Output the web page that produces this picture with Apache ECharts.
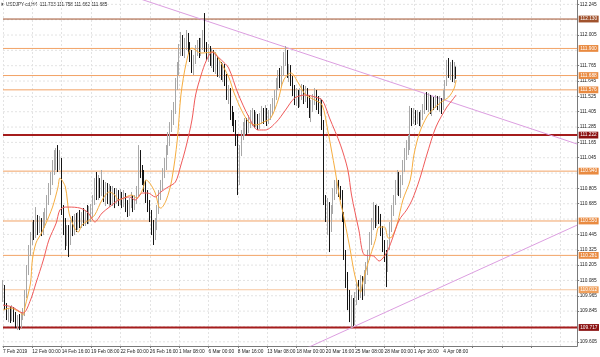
<!DOCTYPE html>
<html><head><meta charset="utf-8">
<script src="https://cdn.jsdelivr.net/npm/echarts@6/dist/echarts.min.js"></script>
<style>html,body{margin:0;padding:0;background:#fff}#c{width:600px;height:357px}</style>
</head><body><div id="c"></div>
<script>
const headerText = 'USDJPY-cd,H4  111.733 111.758 111.662 111.685';
const timeLabels = ['7 Feb 2019','12 Feb 00:00','14 Feb 16:00','19 Feb 08:00','22 Feb 00:00','26 Feb 16:00','1 Mar 08:00','6 Mar 00:00','8 Mar 16:00','13 Mar 08:00','18 Mar 00:00','20 Mar 16:00','25 Mar 08:00','28 Mar 00:00','1 Apr 16:00','4 Apr 08:00'];
const yLabels = [109.605,109.845,109.965,110.085,110.205,110.325,110.445,110.685,110.805,111.045,111.165,111.285,111.405,111.525,111.645,111.765,112.005,112.245];
const yGrid = [109.605,109.725,109.845,109.965,110.085,110.205,110.325,110.445,110.565,110.685,110.805,110.925,111.045,111.165,111.285,111.405,111.525,111.645,111.765,111.885,112.005,112.125,112.245];

const opens = [109.947,110.026,109.877,109.814,109.838,109.791,109.853,109.806,109.759,109.791,109.744,109.806,109.838,109.971,110.166,110.323,110.401,110.495,110.440,110.558,110.479,110.526,110.464,110.542,110.597,110.714,110.792,110.886,110.949,111.011,111.043,110.988,111.027,110.620,110.518,110.401,110.464,110.385,110.518,110.464,110.542,110.495,110.558,110.518,110.573,110.542,110.589,110.558,110.620,110.636,110.714,110.808,110.753,110.831,110.777,110.839,110.753,110.808,110.745,110.792,110.730,110.777,110.722,110.761,110.714,110.753,110.698,110.745,110.675,110.620,110.683,110.730,110.667,110.714,110.777,111.027,110.949,110.886,110.831,110.745,110.675,110.597,110.495,110.440,110.518,110.636,110.753,110.831,110.933,110.988,111.105,111.183,111.277,111.356,111.418,111.614,111.731,111.888,111.950,111.872,111.927,111.982,111.903,111.849,111.731,111.810,111.888,111.927,111.872,111.935,111.966,111.903,111.849,111.888,111.810,111.849,111.770,111.810,111.731,111.763,111.716,111.747,111.669,111.528,111.575,111.403,111.356,111.293,111.199,110.871,111.105,111.223,111.262,111.301,111.277,111.324,111.356,111.379,111.324,111.356,111.301,111.340,111.403,111.356,111.403,111.340,111.371,111.418,111.457,111.536,111.614,111.669,111.637,111.716,111.810,111.849,111.692,111.731,111.653,111.575,111.497,111.543,111.481,111.528,111.575,111.512,111.559,111.497,111.403,111.450,111.497,111.536,111.481,111.418,111.450,111.301,110.714,110.597,110.675,110.518,110.636,110.753,110.808,110.831,110.777,110.753,110.597,110.284,110.088,109.932,109.838,109.892,109.791,109.932,110.010,109.971,110.049,110.010,110.104,110.166,110.284,110.401,110.518,110.597,110.542,110.620,110.573,110.479,110.362,110.284,110.182,110.362,110.495,110.620,110.714,110.792,110.886,110.792,110.871,110.988,111.066,111.121,111.183,111.403,111.340,111.387,111.340,111.379,111.324,111.371,111.418,111.497,111.450,111.512,111.434,111.481,111.457,111.504,111.465,111.497,111.450,111.536,111.637,111.747,111.716,111.770,111.669,111.733];
const closes = [110.026,109.877,109.814,109.838,109.791,109.853,109.806,109.759,109.791,109.744,109.806,109.838,109.971,110.166,110.323,110.401,110.495,110.440,110.558,110.479,110.526,110.464,110.542,110.597,110.714,110.792,110.886,110.949,111.011,111.043,110.988,111.027,110.620,110.518,110.401,110.464,110.385,110.518,110.464,110.542,110.495,110.558,110.518,110.573,110.542,110.589,110.558,110.620,110.636,110.714,110.808,110.753,110.831,110.777,110.839,110.753,110.808,110.745,110.792,110.730,110.777,110.722,110.761,110.714,110.753,110.698,110.745,110.675,110.620,110.683,110.730,110.667,110.714,110.777,111.027,110.949,110.886,110.831,110.745,110.675,110.597,110.495,110.440,110.518,110.636,110.753,110.831,110.933,110.988,111.105,111.183,111.277,111.356,111.418,111.614,111.731,111.888,111.950,111.872,111.927,111.982,111.903,111.849,111.731,111.810,111.888,111.927,111.872,111.935,111.966,111.903,111.849,111.888,111.810,111.849,111.770,111.810,111.731,111.763,111.716,111.747,111.669,111.528,111.575,111.403,111.356,111.293,111.199,110.871,111.105,111.223,111.262,111.301,111.277,111.324,111.356,111.379,111.324,111.356,111.301,111.340,111.403,111.356,111.403,111.340,111.371,111.418,111.457,111.536,111.614,111.669,111.637,111.716,111.810,111.849,111.692,111.731,111.653,111.575,111.497,111.543,111.481,111.528,111.575,111.512,111.559,111.497,111.403,111.450,111.497,111.536,111.481,111.418,111.450,111.301,110.714,110.597,110.675,110.518,110.636,110.753,110.808,110.831,110.777,110.753,110.597,110.284,110.088,109.932,109.838,109.892,109.791,109.932,110.010,109.971,110.049,110.010,110.104,110.166,110.284,110.401,110.518,110.597,110.542,110.620,110.573,110.479,110.362,110.284,110.182,110.362,110.495,110.620,110.714,110.792,110.886,110.792,110.871,110.988,111.066,111.121,111.183,111.403,111.340,111.387,111.340,111.379,111.324,111.371,111.418,111.497,111.450,111.512,111.434,111.481,111.457,111.504,111.465,111.497,111.450,111.536,111.637,111.747,111.716,111.770,111.669,111.731,111.685];
const highs = [110.088,110.049,109.908,109.869,109.885,109.892,109.877,109.838,109.814,109.822,109.838,109.869,110.010,110.205,110.362,110.464,110.542,110.558,110.659,110.597,110.589,110.573,110.620,110.651,110.753,110.847,110.933,111.027,111.105,111.121,111.144,111.105,111.043,110.675,110.573,110.518,110.518,110.558,110.589,110.605,110.612,110.620,110.636,110.620,110.651,110.636,110.675,110.667,110.683,110.753,110.886,110.933,110.910,110.886,110.949,110.871,110.855,110.847,110.839,110.824,110.824,110.808,110.808,110.792,110.800,110.777,110.792,110.769,110.714,110.730,110.777,110.753,110.753,110.824,111.144,111.105,110.988,110.949,110.871,110.792,110.714,110.636,110.558,110.573,110.675,110.792,110.871,110.964,111.043,111.144,111.246,111.324,111.418,111.481,111.669,111.794,111.935,112.029,112.005,111.982,112.044,112.021,111.950,111.888,111.849,111.927,111.966,111.982,111.982,112.044,112.177,111.950,111.935,111.919,111.903,111.888,111.872,111.841,111.810,111.794,111.786,111.778,111.700,111.614,111.590,111.450,111.403,111.340,111.230,111.144,111.262,111.324,111.356,111.356,111.379,111.418,111.434,111.418,111.403,111.387,111.395,111.450,111.434,111.457,111.434,111.418,111.465,111.512,111.575,111.669,111.731,111.747,111.763,111.872,111.919,111.888,111.778,111.770,111.684,111.614,111.590,111.575,111.590,111.622,111.614,111.606,111.590,111.536,111.497,111.543,111.590,111.575,111.528,111.512,111.497,111.340,110.753,110.730,110.698,110.675,110.808,110.871,110.886,110.871,110.824,110.792,110.620,110.323,110.151,110.010,109.971,109.947,109.994,110.072,110.088,110.127,110.119,110.166,110.229,110.323,110.464,110.573,110.698,110.675,110.683,110.667,110.605,110.511,110.401,110.323,110.401,110.542,110.675,110.753,110.871,110.949,110.933,110.910,111.027,111.121,111.183,111.223,111.450,111.434,111.434,111.418,111.418,111.403,111.418,111.465,111.543,111.559,111.551,111.536,111.528,111.520,111.536,111.528,111.528,111.512,111.575,111.653,111.810,111.825,111.794,111.810,111.794,111.758];
const lows = [109.916,109.853,109.775,109.759,109.752,109.767,109.759,109.712,109.697,109.697,109.712,109.775,109.806,109.947,110.127,110.276,110.362,110.401,110.417,110.440,110.456,110.432,110.440,110.495,110.558,110.675,110.753,110.831,110.910,110.949,110.933,110.949,110.597,110.440,110.323,110.354,110.268,110.362,110.432,110.440,110.464,110.479,110.495,110.495,110.511,110.511,110.526,110.526,110.542,110.573,110.675,110.714,110.714,110.730,110.745,110.698,110.667,110.683,110.659,110.675,110.667,110.651,110.683,110.667,110.675,110.651,110.659,110.620,110.581,110.589,110.651,110.620,110.636,110.683,110.745,110.886,110.831,110.777,110.691,110.620,110.542,110.440,110.362,110.401,110.479,110.605,110.714,110.792,110.886,110.949,111.066,111.137,111.246,111.301,111.387,111.575,111.692,111.841,111.841,111.825,111.888,111.856,111.794,111.708,111.692,111.778,111.841,111.825,111.841,111.888,111.872,111.810,111.794,111.763,111.747,111.716,111.700,111.677,111.669,111.653,111.637,111.606,111.497,111.465,111.340,111.293,111.246,111.137,110.753,110.831,111.058,111.183,111.215,111.223,111.238,111.277,111.293,111.277,111.285,111.262,111.270,111.309,111.309,111.324,111.293,111.309,111.340,111.379,111.418,111.497,111.575,111.590,111.606,111.684,111.763,111.669,111.637,111.606,111.528,111.457,111.450,111.434,111.442,111.497,111.465,111.481,111.434,111.356,111.324,111.403,111.457,111.418,111.387,111.371,111.262,110.675,110.542,110.440,110.307,110.464,110.605,110.714,110.761,110.738,110.714,110.542,110.245,110.026,109.853,109.759,109.712,109.728,109.736,109.892,109.932,109.947,109.932,109.963,110.057,110.127,110.245,110.362,110.479,110.495,110.511,110.526,110.432,110.307,110.229,110.033,110.151,110.323,110.464,110.589,110.675,110.753,110.745,110.730,110.831,110.933,111.027,111.066,111.105,111.293,111.309,111.301,111.309,111.293,111.285,111.340,111.387,111.418,111.403,111.387,111.371,111.418,111.434,111.418,111.403,111.387,111.418,111.497,111.606,111.669,111.653,111.637,111.630,111.662];

const maFast = [[0,109.853],[4,109.869],[9,109.838],[11,109.814],[12,109.877],[15,110.065],[16,110.245],[18,110.378],[21,110.456],[23,110.518],[27,110.659],[30,110.816],[31,110.886],[34,110.816],[36,110.612],[39,110.495],[41,110.464],[43,110.518],[47,110.558],[50,110.597],[54,110.714],[58,110.777],[61,110.753],[63,110.714],[66,110.730],[70,110.753],[73,110.730],[76,110.792],[78,110.871],[80,110.847],[83,110.769],[85,110.659],[86,110.651],[89,110.714],[92,110.871],[95,111.183],[97,111.536],[100,111.794],[103,111.903],[108,111.864],[115,111.872],[117,111.833],[123,111.677],[126,111.551],[130,111.418],[134,111.324],[138,111.301],[142,111.324],[146,111.356],[150,111.497],[153,111.653],[157,111.708],[161,111.630],[165,111.536],[170,111.497],[174,111.457],[177,111.262],[181,110.949],[184,110.691],[185,110.636],[189,110.346],[192,110.112],[195,109.994],[196,110.065],[199,110.221],[203,110.401],[205,110.503],[208,110.503],[210,110.417],[212,110.425],[215,110.534],[218,110.714],[222,110.871],[224,111.066],[227,111.238],[231,111.364],[234,111.418],[239,111.481],[243,111.520],[246,111.590],[247,111.653]];
const maSlow = [[0,109.892],[5,109.877],[11,109.830],[15,109.932],[18,110.065],[22,110.245],[25,110.401],[29,110.534],[31,110.636],[34,110.659],[36,110.659],[42,110.651],[46,110.620],[49,110.558],[50,110.542],[54,110.612],[58,110.659],[63,110.714],[69,110.738],[72,110.714],[76,110.769],[79,110.769],[83,110.738],[86,110.777],[90,110.816],[94,110.855],[97,110.988],[100,111.144],[103,111.340],[105,111.536],[108,111.692],[111,111.810],[114,111.872],[116,111.849],[119,111.810],[123,111.747],[128,111.551],[134,111.364],[139,111.262],[143,111.262],[149,111.324],[154,111.418],[159,111.512],[165,111.536],[170,111.520],[174,111.497],[178,111.356],[184,111.144],[188,110.949],[190,110.753],[194,110.479],[197,110.284],[202,110.276],[205,110.237],[209,110.299],[212,110.401],[216,110.558],[220,110.636],[223,110.714],[227,110.871],[231,111.066],[236,111.285],[242,111.442],[245,111.497],[247,111.536]];

const trendUpper = [[0,112.644],[313,111.152]];
const trendLower = [[150,109.454],[313,110.518]];

const levelPrices = [112.130,111.900,111.688,111.576,111.222,110.940,110.550,110.281,110.012,109.717];
const levelTexts = ['112.130','111.900','111.688','111.576','111.222','110.940','110.550','110.281','110.012','109.717'];

// ---- styling ----
const FONT = '"Liberation Sans", Arial, sans-serif';
const FS = 4.8;
const levelKinds = ['brown','orange','orange','orange','red','orange','orange','orange','pale','red'];
const kindStyle = {
  brown: {line:'#a0522d', tag:'#a0522d', w:1},
  orange: {line:'#f2a366', tag:'#e98a40', w:1},
  pale: {line:'#f7c7a0', tag:'#f0a05c', w:1},
  red: {line:'#a51c1c', tag:'#8b1212', w:2}
};
const Y_MIN = 109.572, Y_MAX = 112.279;
const SLOTS = 314;
const LAST = SLOTS - 1;

const cats = Array.from({length: SLOTS}, (_, i) => String(i));
const candles = opens.map((o, i) => [o, closes[i], lows[i], highs[i]]);

function tagLabel(text, bg) {
  return {
    show: true, distance: 1.5, formatter: text,
    backgroundColor: bg, color: '#fff', fontSize: FS, fontFamily: FONT,
    padding: [1.2, 1.5, 0.6, 1.5], lineHeight: 5,
    borderColor: bg === '#e98a40' ? 'transparent' : bg, borderWidth: 0
  };
}

function hLine(price, color, width, z, type, label) {
  return {
    type: 'line', data: [[0, price], [LAST, price]], z: z, silent: true, clip: false,
    symbol: 'none', showSymbol: false,
    lineStyle: {color: color, width: width, type: type || 'solid'},
    endLabel: label || {show: false}
  };
}

const series = [];
yGrid.forEach(v => series.push(hLine(v, '#e3e3e3', 1, 0, [2, 2])));
levelPrices.forEach((p, i) => {
  const st = kindStyle[levelKinds[i]];
  series.push(hLine(p, st.line, st.w, 2, 'solid', tagLabel(levelTexts[i], st.tag)));
});
series.push(
  {type: 'line', data: trendUpper, z: 2, symbol: 'none', silent: true, clip: true,
    lineStyle: {color: '#dc9ee0', width: 1}},
  {type: 'line', data: trendLower, z: 2, symbol: 'none', silent: true, clip: true,
    lineStyle: {color: '#dc9ee0', width: 1}},
  {
    type: 'candlestick', data: candles, z: 3, barWidth: 1.3, silent: true,
    itemStyle: {color: '#f2f2f2', color0: '#151515', borderColor: '#a8a8a8', borderColor0: '#151515', borderWidth: 1}
  },
  {type: 'line', data: maFast, z: 4, symbol: 'none', smooth: 0.3, silent: true,
    lineStyle: {color: '#f6ad3f', width: 1}},
  {type: 'line', data: maSlow, z: 4, symbol: 'none', smooth: 0.3, silent: true,
    lineStyle: {color: '#f05a5a', width: 1}}
);

const chart = echarts.init(document.getElementById('c'), null, {renderer: 'canvas'});
chart.setOption({
  animation: false,
  backgroundColor: '#fff',
  grid: {left: 0, right: 22, top: 0, bottom: 11, containLabel: false},
  graphic: [
    {type: 'polygon', shape: {points: [[1.5,2.5],[4.5,4.3],[1.5,6]]}, style: {fill: '#555'}},
    {type: 'text', left: 6, top: 1.8, style: {text: headerText, fontSize: 4.6, fontFamily: FONT, fill: '#222'}}
  ],
  xAxis: {
    type: 'category', data: cats, boundaryGap: false,
    axisLine: {show: true, lineStyle: {color: '#7a7a7a', width: 1}},
    axisTick: {show: true, interval: 15, length: 2, lineStyle: {color: '#7a7a7a'}},
    axisLabel: {interval: 15, align: 'left', margin: 3.5, fontSize: FS, fontFamily: FONT, color: '#222',
      showMaxLabel: false,
      formatter: (v, i) => (i % 16 === 0 && timeLabels[i / 16]) ? timeLabels[i / 16] : ''},
    splitLine: {show: true, interval: 15, lineStyle: {color: '#e3e3e3', type: [2, 2], width: 1}}
  },
  yAxis: {
    type: 'value', position: 'right', min: Y_MIN, max: Y_MAX, scale: true,
    axisLine: {show: true, lineStyle: {color: '#7a7a7a', width: 1}},
    axisTick: {show: true, customValues: yLabels, length: 2, lineStyle: {color: '#7a7a7a'}},
    axisLabel: {customValues: yLabels, margin: 2.5, fontSize: FS, fontFamily: FONT, color: '#222',
      formatter: v => Number(v).toFixed(3)},
    splitLine: {show: false}
  },
  series: series
});
</script>
</body></html>
